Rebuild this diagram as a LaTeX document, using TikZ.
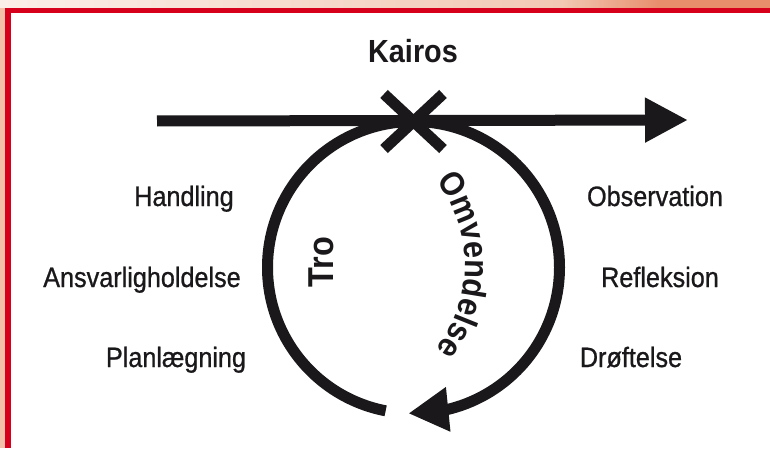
\documentclass[tikz,border=0pt]{standalone}
\usepackage{fontspec}
\newfontfamily\cyclefont[FakeStretch=0.9]{Liberation Sans}
\newfontfamily\cyclelabelfont[FakeStretch=0.9, FakeBold=0.8]{Liberation Sans}
\usetikzlibrary{arrows.meta, bending, shapes.misc, decorations.text}
\definecolor{framered}{RGB}{214,0,28}
\definecolor{framepeach}{RGB}{243,192,170}
\definecolor{bandlight}{RGB}{251,239,233}
\definecolor{bandmid}{RGB}{242,200,180}
\definecolor{bandorange}{RGB}{232,142,108}
\definecolor{ink}{RGB}{26,24,26}
\tikzset{
    cyclearc/.style={draw=ink, line width=11pt},
    cyclecross/.style={cross out, draw=ink, line width=11pt, minimum width=48pt, minimum height=44pt, inner sep=0pt},
    cycleword/.style={font=\cyclelabelfont\fontsize{28}{32}\selectfont, text=ink, anchor=base, inner sep=0pt},
    cycletitle/.style={font=\cyclefont\bfseries\fontsize{32}{36}\selectfont, text=ink, inner sep=0pt}
}

\begin{document}
\begin{tikzpicture}[x=1pt, y=1pt]
\useasboundingbox (0,0) rectangle (770,448);

% frame
\fill[white] (0,0) rectangle (770,448);
\shade[left color=bandlight, right color=bandmid] (0,440) rectangle (560,448);
\shade[left color=bandmid, right color=bandorange] (560,440) rectangle (660,448);
\fill[bandorange] (660,440) rectangle (770,448);
\fill[framepeach] (0,0) rectangle (5,440);
\fill[framered] (5,435.3) rectangle (770,440);
\fill[framered] (5,0) rectangle (10.5,440);

% time line and cycle
\coordinate (past) at (157,327);
\coordinate (future) at (688,328);
\coordinate (bend) at (327,183);
\node[cyclecross] (kairos) at (413.5,326.5) {};

\draw[cyclearc, -{Triangle[length=43pt, width=42pt]}] (past) -- (future);
\draw[cyclearc] (kairos.center) arc[start angle=90, end angle=259, radius=146pt];
\draw[cyclearc, -{Triangle[length=40pt, width=42pt]}] (kairos.center) arc[start angle=90, end angle=-92, radius=146pt];

\node[cycletitle, anchor=base] (title) at (413,385) {Kairos};
\node[cycletitle, rotate=90, font=\cyclefont\bfseries\fontsize{36}{40}\selectfont] (tro) at (321,186) {Tro};
\path[decorate, decoration={text along path, text={|\cyclefont\bfseries\fontsize{34}{38}\selectfont|Omvendelse}, text align=center, text color=ink}]
    (bend) ++(38:138pt) arc[start angle=38, end angle=-38, radius=138pt];

% labels
\node[cycleword] (handling) at (184,242) {Handling};
\node[cycleword] (ansvar) at (142,161) {Ansvarligholdelse};
\node[cycleword] (plan) at (176,81) {Planlægning};
\node[cycleword] (observation) at (655,242) {Observation};
\node[cycleword] (refleksion) at (660,161) {Refleksion};
\node[cycleword] (droeftelse) at (631,81) {Drøftelse};

\end{tikzpicture}
\end{document}
